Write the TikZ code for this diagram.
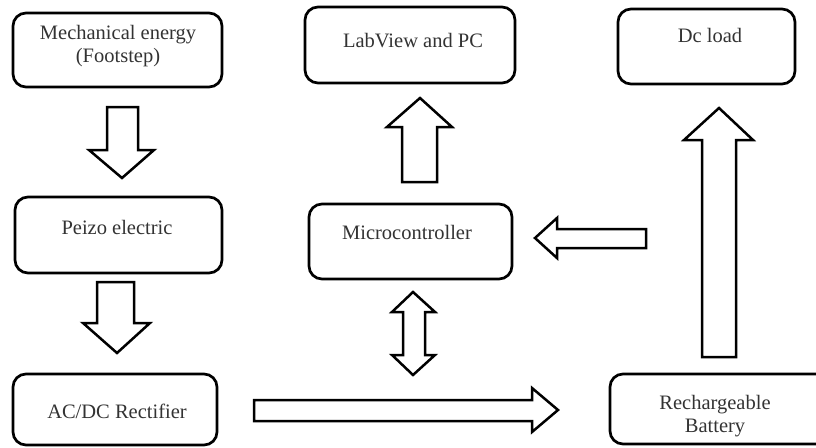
\documentclass[tikz,border=0pt]{standalone}
\usepackage{fontspec}
\setmainfont{Liberation Serif}
\begin{document}
\begin{tikzpicture}[x=1pt,y=-1pt,
  box/.style={draw=black,line width=2.7pt,rounded corners=13pt,fill=white,inner sep=0pt},
  lbl/.style={text=black!80,font=\fontsize{20.5}{23}\selectfont,align=center,inner sep=0pt},
  blockarrow/.style={draw=black,line width=2.5pt,fill=white,line join=miter}]
\useasboundingbox (0,0) rectangle (816,447);
\clip (0,0) rectangle (816,447);
\fill[white] (0,0) rectangle (816,447);
% boxes
\node[box,minimum width=209pt,minimum height=74pt] (mech) at (117.5,50) {};
\node[box,minimum width=207pt,minimum height=76pt] (peizo) at (118.5,235) {};
\node[box,minimum width=204pt,minimum height=71pt] (rect) at (115,409.5) {};
\node[box,minimum width=210pt,minimum height=76pt] (lab) at (410,45) {};
\node[box,minimum width=203pt,minimum height=75pt] (micro) at (410.5,241.5) {};
\node[box,minimum width=177pt,minimum height=75pt] (dc) at (706.5,46.5) {};
\node[box,minimum width=230pt,minimum height=70pt] (batt) at (725,409) {};
% labels
\node[lbl] (tmech) at (118,46) {Mechanical energy\\(Footstep)};
\node[lbl] (tpeizo) at (117,227) {Peizo electric};
\node[lbl] (trect) at (117,411) {AC/DC Rectifier};
\node[lbl] (tlab) at (413,41) {LabView and PC};
\node[lbl] (tmicro) at (407,232) {Microcontroller};
\node[lbl] (tdc) at (710,35) {Dc load};
\node[lbl] (tbatt) at (715,416) {Rechargeable\\Battery};
% block arrows
\draw[blockarrow] (107,107) -- (138,107) -- (138,150) -- (154,150) -- (122,178) -- (89,150) -- (107,150) -- cycle;
\draw[blockarrow] (97,282) -- (134,282) -- (134,323) -- (150,323) -- (117,353) -- (83,323) -- (97,323) -- cycle;
\draw[blockarrow] (402,182) -- (437,182) -- (437,127) -- (452,127) -- (420,98) -- (387,127) -- (402,127) -- cycle;
\draw[blockarrow] (413,292) -- (435,312) -- (425,312) -- (425,355) -- (435,355) -- (413,375) -- (392,355) -- (403,355) -- (403,312) -- (392,312) -- cycle;
\draw[blockarrow] (646,229) -- (646,248) -- (557,248) -- (557,258) -- (535,238) -- (557,218) -- (557,229) -- cycle;
\draw[blockarrow] (702,357) -- (736,357) -- (736,140) -- (753,140) -- (719,108) -- (684,140) -- (702,140) -- cycle;
\draw[blockarrow] (254,400) -- (532,400) -- (532,388) -- (558,410) -- (532,432) -- (532,421) -- (254,421) -- cycle;
\end{tikzpicture}
\end{document}
